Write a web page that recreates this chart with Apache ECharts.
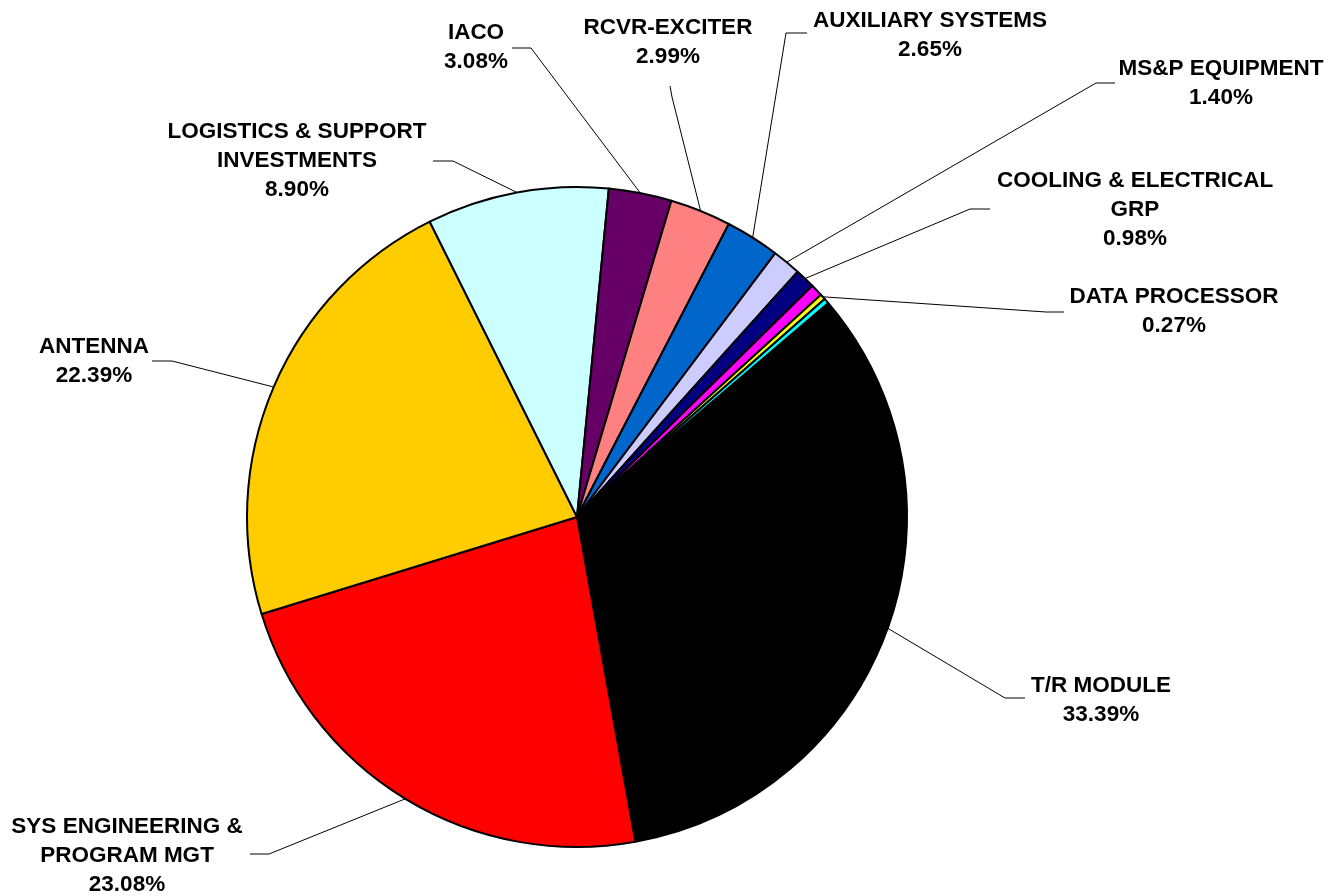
<!DOCTYPE html>
<html>
<head>
<meta charset="utf-8">
<script src="https://cdn.jsdelivr.net/npm/echarts@6/dist/echarts.min.js"></script>
<style>
  html, body { margin: 0; padding: 0; background: #fff; }
  #chart { width: 1329px; height: 896px; }
</style>
</head>
<body>
<div id="chart"></div>
<script>
// slice names, clockwise from the first slice
var names = [
  'T/R MODULE',
  'SYS ENGINEERING &\nPROGRAM MGT',
  'ANTENNA',
  'LOGISTICS & SUPPORT\nINVESTMENTS',
  'IACO',
  'RCVR-EXCITER',
  'AUXILIARY SYSTEMS',
  'MS&P EQUIPMENT',
  'COOLING & ELECTRICAL\nGRP',
  '',
  'DATA PROCESSOR',
  ''
];
// percent shares (the two unlabeled slivers are estimated)
var shares = [33.39, 23.08, 22.39, 8.90, 3.08, 2.99, 2.65, 1.40, 0.98, 0.60, 0.27, 0.27];
var colors = ['#000000', '#ff0000', '#ffcc00', '#ccffff', '#660066', '#ff8080',
  '#0066cc', '#ccccff', '#000080', '#ff00ff', '#ffff00', '#00ffff'];

// label block centres and leader elbows (layout only)
var labelPos = [
  [1101, 700], [127, 856], [94, 361], [297, 161], [476, 47], [668, 42],
  [930, 35], [1221, 83], [1135, 210], null, [1174, 311], null
];
var leader = [
  [[1005, 698], [1025, 698]],
  [[269, 854], [250, 854]],
  [[172, 361], [152, 361]],
  [[453, 161], [433, 161]],
  [[531, 48], [512, 48]],
  [[672, 97], [670, 86]],
  [[786, 33], [807, 33]],
  [[1096, 83], [1115, 83]],
  [[970, 209], [990, 209]],
  null,
  [[1046, 312], [1064, 312]],
  null
];

var chart = echarts.init(document.getElementById('chart'));

var pieData = shares.map(function (v, i) {
  var item = { name: names[i], value: v, itemStyle: { color: colors[i] } };
  if (!names[i]) {
    item.label = { show: false };
    item.labelLine = { show: false };
  }
  return item;
});

chart.setOption({
  animation: false,
  series: [
    {
      type: 'pie',
      center: [577, 517],
      radius: 330,
      startAngle: 40.4,
      clockwise: true,
      avoidLabelOverlap: false,
      emphasis: { disabled: true },
      itemStyle: { borderColor: '#000', borderWidth: 2 },
      label: {
        show: true,
        position: 'outside',
        color: '#000',
        fontFamily: '"Liberation Sans", Arial, sans-serif',
        fontWeight: 'bold',
        fontSize: 22.5,
        lineHeight: 29,
        align: 'center',
        formatter: function (p) {
          return p.name + '\n' + p.value.toFixed(2) + '%';
        }
      },
      labelLine: {
        show: true,
        length: 10,
        length2: 10,
        lineStyle: { color: '#000', width: 1 }
      },
      labelLayout: function (params) {
        var i = params.dataIndex;
        if (!labelPos[i]) return {};
        var res = {
          x: labelPos[i][0],
          y: labelPos[i][1],
          align: 'center',
          verticalAlign: 'middle',
          hideOverlap: false,
          moveOverlap: false
        };
        if (params.labelLinePoints && params.labelLinePoints.length) {
          res.labelLinePoints = [params.labelLinePoints[0], leader[i][0], leader[i][1]];
        }
        return res;
      },
      data: pieData
    }
  ]
});
</script>
</body>
</html>
